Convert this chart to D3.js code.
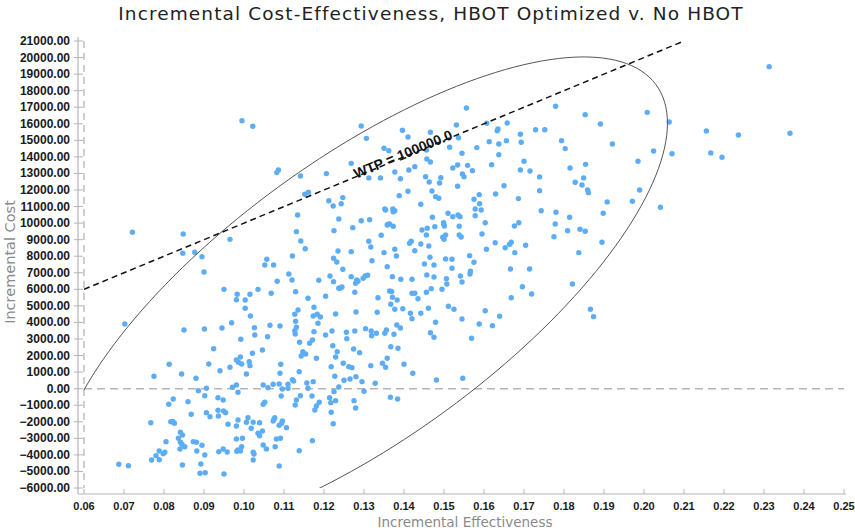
<!DOCTYPE html>
<html><head><meta charset="utf-8">
<script src="https://cdn.jsdelivr.net/npm/d3@7"></script>
<style>body{margin:0;background:#fff}svg{display:block}</style>
</head><body>
<svg id="chart" width="855" height="530"></svg>
<script>
const chartTitle = "Incremental Cost-Effectiveness, HBOT Optimized v. No HBOT";
const xAxisTitle = "Incremental Effectiveness";
const yAxisTitle = "Incremental Cost";
const xTickValues = [0.06,0.07,0.08,0.09,0.10,0.11,0.12,0.13,0.14,0.15,0.16,0.17,0.18,0.19,0.20,0.21,0.22,0.23,0.24,0.25];
const yTickValues = [-6000,-5000,-4000,-3000,-2000,-1000,0,1000,2000,3000,4000,5000,6000,7000,8000,9000,10000,11000,12000,13000,14000,15000,16000,17000,18000,19000,20000,21000];
const wtpValue = 100000;
const wtpLabel = "WTP = 100000.0";
const wtpStart = [0.06, 6000];
const ellipseCenter = [0.1295, 5420];
const ellipseSD = [0.0312, 5972];
const ellipseCorr = 0.726;
const ellipseChi2 = 5.991;

// [incremental effectiveness, incremental cost]
const simulations = [
[0.0995,16190],[0.1022,15850],[0.1082,13050],[0.1086,13210],[0.1141,12850],[0.1206,12990],[0.1152,11740],[0.1161,11860],[0.1212,11355],[0.1223,11035],
[0.1293,15870],[0.1306,15120],[0.1556,16950],[0.1779,17060],[0.1853,16550],[0.1396,15610],[0.141,15200],[0.1466,15490],[0.1531,15930],[0.1536,15160],[0.1607,16030],[0.1635,15690],[0.1633,15580],[0.1658,16050],[0.1691,15370],[0.1693,14880],[0.1729,15640],[0.1752,15640],[0.1794,14980],[0.1803,14500],[0.135,14520],[0.1362,14375],[0.1456,14420],[0.1457,13870],[0.1514,14580],[0.1545,14220],[0.1582,14560],[0.1613,14920],[0.1637,14780],[0.1637,14130],[0.1656,14980],[0.1268,13610],[0.1312,12730],[0.1341,12730],[0.1377,13090],[0.1391,12680],[0.1412,13210],[0.1427,13410],[0.1466,13690],[0.1454,12800],[0.1489,12420],[0.1492,12745],[0.1463,12485],[0.147,11940],[0.1479,11600],[0.1487,11500],[0.1522,13330],[0.1534,13510],[0.1546,12970],[0.155,12800],[0.1559,13490],[0.1571,13170],[0.1534,12225],[0.1588,11720],[0.1589,11170],[0.1578,10850],[0.1575,11440],[0.1619,13530],[0.1629,11760],[0.165,12260],[0.1686,11480],[0.1691,13210],[0.17,13735],[0.1715,13150],[0.1739,12790],[0.1739,11960],[0.1815,13330],[0.1828,12470],[0.1845,12300],[0.1849,12730],[0.1854,13550],[0.1859,12000],[0.1388,11660],[0.141,11920],[0.1442,11140],[0.1247,11540],[0.1243,11170],[0.1352,10850],[0.1372,10850],
[0.2313,19450],[0.1891,15990],[0.2008,16690],[0.2063,16110],[0.2156,15565],[0.2236,15320],[0.2365,15430],[0.1921,14780],[0.2024,14360],[0.207,14190],[0.2167,14240],[0.2195,13980],[0.1985,13735],[0.1861,11840],[0.1989,12000],[0.1908,11280],[0.1971,11320],[0.2041,10960],
[0.0721,9450],[0.0848,9340],[0.0847,8180],[0.0877,8240],[0.0895,7970],[0.09,7050],[0.0965,9020],[0.0702,3910],[0.085,3545],[0.0901,3605],[0.0945,3665],[0.0969,3985],[0.095,6000],[0.0983,5700],[0.0981,5375],[0.1003,5355],[0.1015,5700],[0.1035,6000],[0.1068,5760],[0.1003,4855],[0.1016,4390],[0.1026,3685],[0.1027,3245],[0.0992,2985],[0.0924,2415],[0.1046,2335],[0.1059,3140],[0.1065,3830],[0.109,3785],[0.1052,7470],[0.1057,7815],[0.1074,7470],[0.1083,6485],[0.1112,6930],[0.112,6565],[0.1121,8015],[0.1134,10490],[0.1131,9485],[0.1142,8920],[0.1153,8455],[0.1129,5860],[0.116,5460],[0.1135,4755],[0.1127,4495],[0.1175,4915],[0.1173,4390],[0.1183,4495],[0.1191,4330],[0.1185,3950],[0.1129,4070],[0.1131,3710],[0.1127,3505],[0.1128,3305],[0.1175,3445],[0.1204,3245],[0.122,3485],[0.1139,2805],[0.1164,2740],[0.1171,2940],[0.1222,2595],[0.1204,5580],[0.1215,6805],[0.1224,6465],[0.1187,6545],[0.1229,4510],[0.1237,6065],[0.1225,9545],[0.1235,8315],[0.1224,7875],[0.1232,7655],[0.1237,10250],
[0.1272,9725],[0.1293,10145],[0.1314,10210],[0.1354,10790],[0.1373,10690],[0.1377,10750],[0.136,9930],[0.1364,9950],[0.1358,9885],[0.1373,9810],[0.1471,10355],[0.1445,9585],[0.1458,9690],[0.1477,9785],[0.1456,9285],[0.1499,9950],[0.1501,9825],[0.1499,10025],[0.151,10595],[0.1522,10390],[0.1535,10490],[0.154,10390],[0.1538,9810],[0.1538,9285],[0.1543,9160],[0.1497,9145],[0.15,9025],[0.1504,9285],[0.1593,10795],[0.1578,10450],[0.1603,10025],[0.1595,9345],[0.1628,8820],[0.1606,8420],[0.1653,8515],[0.1664,8720],[0.1668,8845],[0.1676,9825],[0.1687,10025],[0.1677,8215],[0.1704,8660],[0.1743,10750],[0.178,10655],[0.1814,10355],[0.1778,9950],[0.1809,9545],[0.1775,9180],[0.184,9630],[0.1853,9505],[0.1837,8215],[0.1666,7230],[0.1714,7230],[0.1696,6160],[0.1668,5495],[0.1719,5720],[0.1821,6325],[0.1866,4795],[0.1874,4350],[0.1564,8035],[0.1575,7635],[0.1566,7090],[0.1565,6930],[0.1541,6805],[0.1545,6445],[0.152,7270],[0.152,7815],[0.1504,7835],[0.1475,7470],[0.1465,7935],[0.1451,7530],[0.1427,8335],[0.1414,8780],[0.1418,8905],[0.1442,8740],[0.1462,8620],[0.135,8215],[0.1377,8420],[0.1381,8015],[0.1312,8905],[0.1317,8560],[0.1343,9265],[0.132,7730],[0.1358,7370],[0.1268,8275],[0.1247,7210],[0.1268,6765],[0.1282,6565],[0.1279,6365],[0.1285,6485],[0.1298,6670],[0.1303,6805],[0.1309,6850],[0.1241,6080],[0.1245,6140],[0.1277,5825],[0.1335,5495],[0.1371,6765],[0.1392,6610],[0.142,6610],[0.1457,6870],[0.1475,6745],[0.1506,6645],[0.1507,6325],[0.1364,5900],[0.1369,5870],[0.1371,5520],[0.1383,5355],[0.142,5760],[0.1427,5760],[0.1435,5435],[0.1456,5825],[0.1468,6040],[0.1495,6005],[0.1367,5100],[0.1377,4795],[0.1397,4830],[0.1416,4555],[0.142,4230],[0.1442,4555],[0.1461,4855],[0.1511,4975],[0.1525,4795],[0.1545,4210],[0.1603,4710],[0.1639,4375],[0.1621,3805],[0.1588,3910],[0.1479,4010],[0.1333,4615],[0.128,4635],[0.1304,3625],[0.1318,3485],[0.1319,3200],[0.1331,3345],[0.1352,3345],[0.1356,3545],[0.1375,3285],[0.1382,3845],[0.1391,3665],[0.1256,3405],[0.1257,3020],[0.1277,3485],[0.1466,3380],[0.1475,3105],[0.1569,3045],[0.1367,2535],[0.1385,2440],[0.1274,2400],
[0.1898,10595],[0.1895,8845],
[0.0813,1475],[0.0775,750],[0.0844,890],[0.088,630],[0.0912,1490],[0.094,1085],[0.0965,1295],[0.0981,1735],[0.0991,1915],[0.0986,1595],[0.0994,1490],[0.1013,1630],[0.1015,1390],[0.1021,2140],[0.1006,890],[0.0971,85],[0.0981,225],[0.0985,-215],[0.0906,25],[0.0886,-120],[0.0902,-425],[0.0935,-545],[0.0948,-685],[0.086,-785],[0.0823,-620],[0.0812,-940],[0.0868,-1545],[0.0906,-1450],[0.0915,-1690],[0.0935,-1305],[0.0936,-1650],[0.0949,-1345],[0.0954,-1450],[0.096,-2150],[0.0981,-2255],[0.0985,-1890],[0.1006,-2030],[0.101,-1750],[0.1023,-2030],[0.1018,-2390],[0.1039,-2055],[0.1035,-2695],[0.1046,-2555],[0.1039,-2840],[0.0981,-3040],[0.0996,-2995],[0.0985,-3705],[0.0994,-3505],[0.0991,-3765],[0.0982,-3780],[0.0948,-3640],[0.0958,-3825],[0.0937,-3805],[0.0902,-4005],[0.0895,-3420],[0.0873,-3200],[0.0881,-3235],[0.0882,-3765],[0.0841,-3235],[0.0845,-3360],[0.0852,-3505],[0.084,-3640],[0.0836,-2995],[0.0846,-2795],[0.0841,-2635],[0.0817,-1995],[0.0822,-1985],[0.0826,-2090],[0.0767,-2055],[0.0805,-3200],[0.0788,-3765],[0.078,-4045],[0.0769,-4305],[0.0788,-4290],[0.0802,-3840],[0.0798,-3925],[0.0687,-4565],[0.0711,-4650],[0.0846,-4610],[0.0892,-4550],[0.089,-5110],[0.0903,-5075],[0.095,-5150],[0.1023,-3840],[0.1025,-3945],[0.1023,-4305],[0.1048,-3400],[0.1056,-3640],[0.1078,-3505],[0.1081,-3040],[0.1091,-2995],[0.1088,-2210],[0.1096,-1950],[0.1094,-2090],[0.1106,-2355],[0.1073,-1950],[0.1077,-1750],[0.1075,-1850],[0.1088,-4670],[0.1138,-3745],[0.1171,-3140],[0.1181,-1045],[0.1188,-820],[0.1177,-1285],[0.1214,-545],[0.1048,225],[0.106,60],[0.1073,265],[0.1088,285],[0.1096,-20],[0.111,265],[0.1121,545],[0.1124,465],[0.1048,-940],[0.1052,-820],[0.1093,-440],[0.111,25],[0.1128,-985],[0.1131,-685],[0.1141,-425],[0.1157,345],[0.116,25],[0.1173,425],[0.117,-440],[0.1138,1025],[0.1147,2235],[0.1143,1975],[0.1154,2095],[0.1181,1835],[0.1092,1475],[0.109,930],
[0.1233,2235],[0.1229,1915],[0.1289,2175],[0.1218,1330],[0.1248,1535],[0.1262,1330],[0.127,1270],[0.1317,1390],[0.1346,1535],[0.1354,1295],[0.1358,1835],[0.14,1475],[0.1422,930],[0.1481,525],[0.1547,630],[0.1227,750],[0.125,505],[0.1265,585],[0.128,725],[0.1295,425],[0.1328,325],[0.1237,105],[0.1225,-180],[0.13,-155],[0.1217,-845],[0.1229,-725],[0.1275,-725],[0.1279,-1165],[0.1366,-520],[0.1384,-620],[0.1218,-1425],[0.1223,-2115]
];

const svg = d3.select("#chart");
const x = d3.scaleLinear().domain([xTickValues[0], xTickValues[xTickValues.length-1]]).range([84, 844]);
const y = d3.scaleLinear().domain([yTickValues[0], yTickValues[yTickValues.length-1]]).range([488, 41]);
const axisX0 = 78, axisY0 = 494;
const gridGray = "#b5b5b5";
const fmt = d3.format(".2f");

svg.append("defs").append("clipPath").attr("id","plotclip")
  .append("rect").attr("x", x.range()[0]).attr("y", y.range()[1])
  .attr("width", x.range()[1]-x.range()[0]).attr("height", y.range()[0]-y.range()[1]);

// title
svg.append("text").attr("x", 431).attr("y", 20).attr("text-anchor","middle")
  .attr("font-family","'DejaVu Sans', sans-serif").attr("font-size", 18.5).attr("letter-spacing", 1.1)
  .attr("fill","#222").text(chartTitle);

// axes lines
svg.append("line").attr("x1", axisX0).attr("x2", axisX0).attr("y1", y.range()[1]-4).attr("y2", axisY0)
  .attr("stroke", gridGray).attr("stroke-width",1.2);
svg.append("line").attr("x1", axisX0).attr("x2", x.range()[1]+2).attr("y1", axisY0).attr("y2", axisY0)
  .attr("stroke", gridGray).attr("stroke-width",1.2);

// y ticks
const yt = svg.append("g");
yt.selectAll("line").data(yTickValues).join("line")
  .attr("x1", axisX0-4).attr("x2", axisX0+5).attr("y1", d=>y(d)).attr("y2", d=>y(d))
  .attr("stroke", gridGray).attr("stroke-width",1);
yt.selectAll("text").data(yTickValues).join("text")
  .attr("x", 70).attr("y", d=>y(d)+4).attr("text-anchor","end")
  .attr("font-family","'Liberation Sans', Arial, sans-serif").attr("font-weight","bold")
  .attr("font-size", 12).attr("fill","#1a1a1a").text(d=>fmt(d));

// x ticks
const xt = svg.append("g");
xt.selectAll("line").data(xTickValues).join("line")
  .attr("x1", d=>x(d)).attr("x2", d=>x(d)).attr("y1", axisY0-5).attr("y2", axisY0)
  .attr("stroke", gridGray).attr("stroke-width",1);
xt.selectAll("text").data(xTickValues).join("text")
  .attr("x", d=>x(d)).attr("y", 510).attr("text-anchor","middle")
  .attr("font-family","'Liberation Sans', Arial, sans-serif").attr("font-weight","bold")
  .attr("font-size", 11).attr("fill","#1a1a1a").text(d=>fmt(d));

// axis titles
svg.append("text").attr("x", 465).attr("y", 527).attr("text-anchor","middle")
  .attr("font-family","'DejaVu Sans', sans-serif").attr("font-size", 13.5).attr("fill","#8a8a8a")
  .text(xAxisTitle);
svg.append("text").attr("transform","translate(15,262) rotate(-90)").attr("text-anchor","middle")
  .attr("font-family","'DejaVu Sans', sans-serif").attr("font-size", 14.5).attr("fill","#8a8a8a")
  .text(yAxisTitle);

// reference dashed lines
svg.append("line").attr("x1", x(xTickValues[0])).attr("x2", x(xTickValues[0]))
  .attr("y1", y.range()[1]).attr("y2", y.range()[0])
  .attr("stroke", gridGray).attr("stroke-width",1.3).attr("stroke-dasharray","7,5");
svg.append("line").attr("x1", x.range()[0]).attr("x2", x.range()[1]).attr("y1", y(0)).attr("y2", y(0))
  .attr("stroke", gridGray).attr("stroke-width",1.5).attr("stroke-dasharray","8,5");

const plot = svg.append("g").attr("clip-path","url(#plotclip)");

// points
plot.append("g").selectAll("circle").data(simulations).join("circle")
  .attr("cx", d=>x(d[0])).attr("cy", d=>y(d[1])).attr("r", 2.7)
  .attr("fill", "#5cadf6");

// confidence ellipse
const k = Math.sqrt(ellipseChi2);
const sx = ellipseSD[0], sy = ellipseSD[1], r = ellipseCorr;
const ellipsePts = d3.range(0, 361, 2).map(a => {
  const t = a*Math.PI/180, c = Math.cos(t), s = Math.sin(t);
  return [ellipseCenter[0] + k*sx*c, ellipseCenter[1] + k*(r*sy*c + sy*Math.sqrt(1-r*r)*s)];
});
plot.append("path").datum(ellipsePts)
  .attr("d", d3.line().x(d=>x(d[0])).y(d=>y(d[1])).curve(d3.curveLinearClosed))
  .attr("fill","none").attr("stroke","#555").attr("stroke-width",1);

// WTP line
const wtpEndX = wtpStart[0] + (yTickValues[yTickValues.length-1]-wtpStart[1])/wtpValue;
const wtpLine = [wtpStart, [wtpEndX, wtpStart[1] + wtpValue*(wtpEndX-wtpStart[0])]];
plot.append("line").attr("x1", x(wtpLine[0][0])).attr("y1", y(wtpLine[0][1]))
  .attr("x2", x(wtpLine[1][0])).attr("y2", y(wtpLine[1][1]))
  .attr("stroke","#111").attr("stroke-width",1.5).attr("stroke-dasharray","6,4");

const lx = 0.14, ly = wtpStart[1] + wtpValue*(lx-wtpStart[0]);
const ang = Math.atan2(y(wtpLine[1][1])-y(wtpLine[0][1]), x(wtpLine[1][0])-x(wtpLine[0][0]))*180/Math.PI;
svg.append("text").attr("transform", `translate(${x(lx)},${y(ly)}) rotate(${ang})`)
  .attr("y", 2).attr("text-anchor","middle")
  .attr("font-family","'Liberation Sans', Arial, sans-serif").attr("font-weight","bold")
  .attr("font-size", 14).attr("fill","#111").text(wtpLabel);
</script>
</body></html>
